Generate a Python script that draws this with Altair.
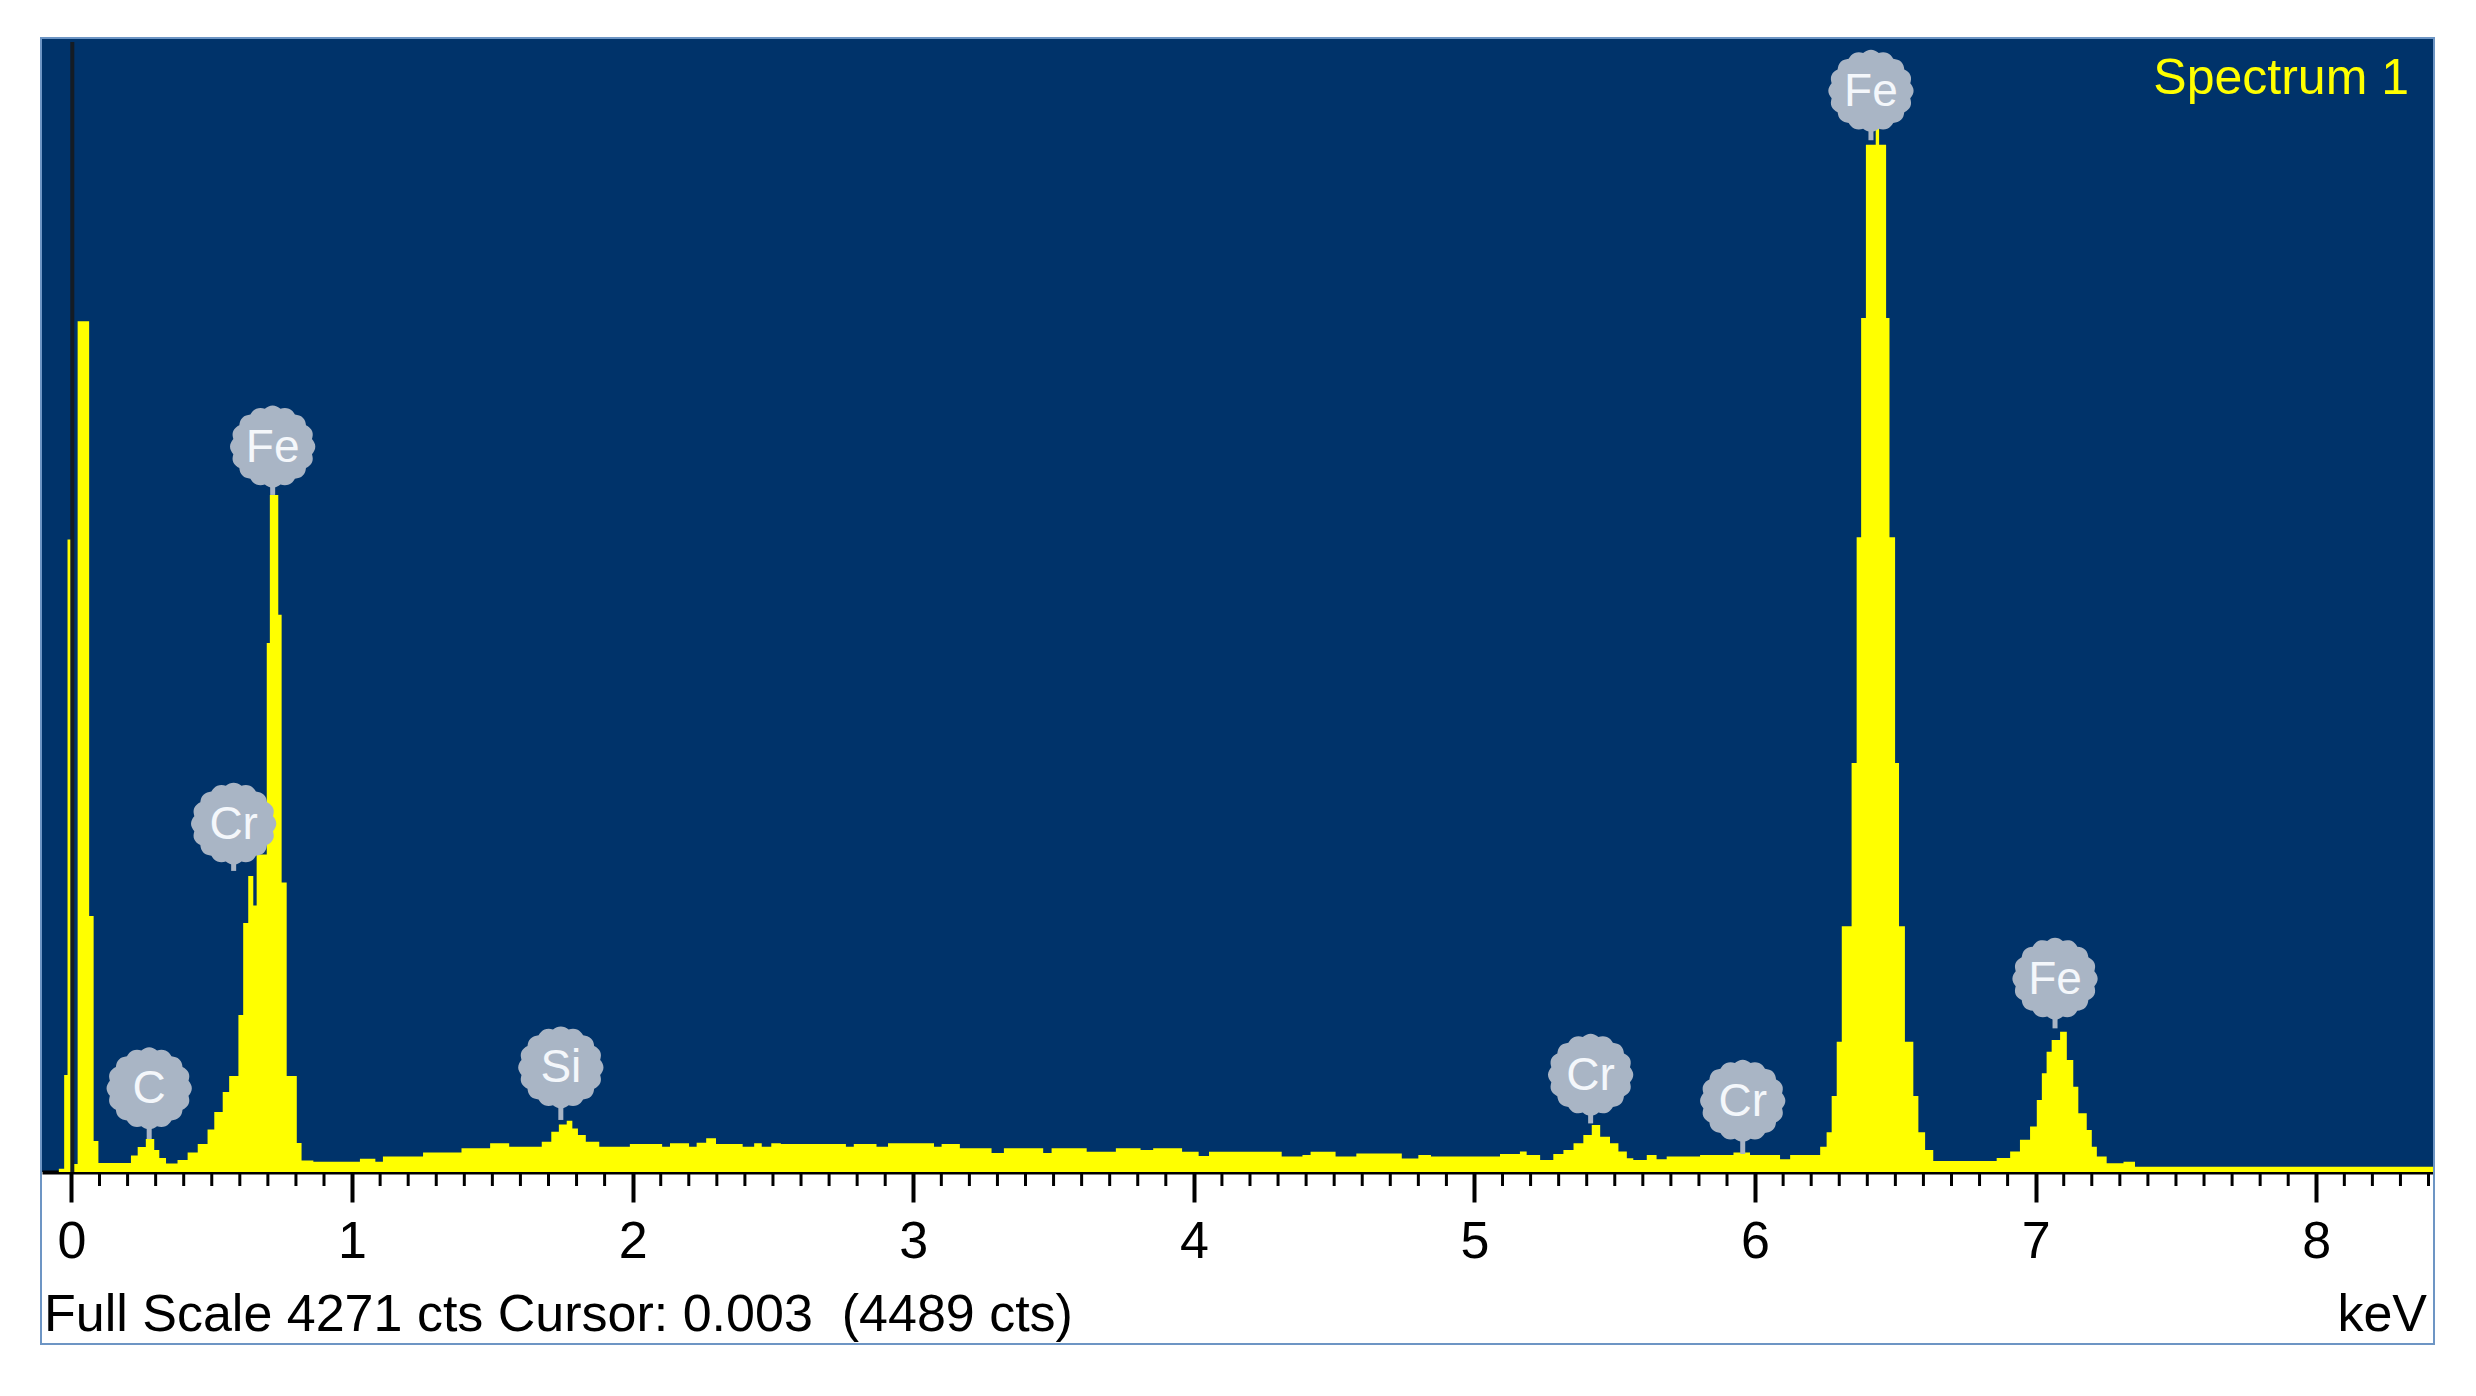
import altair as alt
import pandas as pd
import numpy as np

# ---------------- data ----------------
kev = [-0.105, -0.045, -0.026, -0.014, 0.008, 0.022, 0.063, 0.079, 0.096, 0.212,
       0.236, 0.265, 0.295, 0.313, 0.337, 0.378, 0.414, 0.450, 0.485, 0.509,
       0.539, 0.562, 0.595, 0.612, 0.630, 0.648, 0.660, 0.696, 0.707, 0.737,
       0.749, 0.767, 0.803, 0.820, 0.862, 1.028, 1.083, 1.110, 1.253, 1.390,
       1.492, 1.560, 1.676, 1.710, 1.737, 1.765, 1.785, 1.805, 1.833, 1.881,
       1.990, 2.105, 2.133, 2.201, 2.228, 2.262, 2.297, 2.392, 2.433, 2.460,
       2.494, 2.528, 2.760, 2.788, 2.869, 2.910, 3.074, 3.101, 3.166, 3.279,
       3.323, 3.463, 3.493, 3.618, 3.722, 3.810, 3.855, 3.958, 4.017, 4.054,
       4.313, 4.387, 4.416, 4.505, 4.579, 4.741, 4.800, 4.845, 5.091, 5.162,
       5.186, 5.234, 5.281, 5.317, 5.353, 5.388, 5.418, 5.448, 5.483, 5.513,
       5.543, 5.566, 5.614, 5.649, 5.685, 5.804, 5.923, 5.982, 6.089, 6.125,
       6.232, 6.255, 6.273, 6.291, 6.309, 6.344, 6.362, 6.378, 6.395, 6.430,
       6.442, 6.467, 6.479, 6.499, 6.513, 6.534, 6.564, 6.582, 6.606, 6.635,
       6.861, 6.909, 6.944, 6.980, 7.004, 7.022, 7.039, 7.057, 7.087, 7.111,
       7.134, 7.152, 7.182, 7.200, 7.218, 7.253, 7.313, 7.354, 8.416]
counts = [0, 12, 365, 2382, 30, 3204, 964, 117, 34, 62,
          94, 124, 83, 53, 32, 45, 73, 105, 160, 226,
          301, 362, 591, 938, 1115, 1004, 1196, 1992, 2550, 2099,
          1090, 362, 109, 43, 39, 50, 39, 58, 73, 89,
          108, 95, 114, 152, 179, 193, 164, 139, 114, 95,
          105, 95, 108, 95, 110, 127, 105, 95, 108, 95,
          108, 105, 95, 105, 95, 108, 95, 105, 89, 72,
          89, 72, 89, 76, 89, 83, 89, 76, 60, 76,
          58, 64, 76, 58, 70, 51, 64, 58, 68, 77,
          64, 45, 68, 83, 108, 139, 177, 133, 108, 77,
          52, 45, 64, 48, 58, 64, 73, 64, 48, 64,
          95, 150, 286, 491, 926, 1540, 2391, 3216, 3869, 3950,
          3869, 3216, 2391, 1540, 926, 491, 286, 150, 83, 41,
          53, 77, 121, 171, 271, 372, 453, 497, 528, 422,
          321, 221, 158, 95, 58, 33, 39, 20, 20]

peak_labels = ["C", "Cr", "Fe", "Si", "Cr", "Cr", "Fe", "Fe"]
peak_kev = [0.277, 0.578, 0.717, 1.744, 5.414, 5.956, 6.413, 7.069]
badge_cts = [315, 1312, 2732, 394, 366, 268, 4072, 728]
stem_end_cts = [124, 1134, 2550, 196, 183, 68, 3886, 541]

FULL_SCALE = 4271
CURSOR_KEV = 0.003
CURSOR_CTS = 4489
SPECTRUM_NAME = "Spectrum 1"
UNIT = "keV"
major_ticks = [0, 1, 2, 3, 4, 5, 6, 7, 8]
minor_ticks = [round(i * 0.1, 1) for i in range(0, 85) if i % 10 != 0]

# ---------------- layout ----------------
W, H = 2391, 1134
XDOM = [-0.105, 8.416]
BG = "#00336a"
YEL = "#ffff00"
BADGE = "#a9b5c5"
FONT = "Liberation Sans"

xs = alt.Scale(domain=XDOM, nice=False, zero=False)
ys = alt.Scale(domain=[0, FULL_SCALE], nice=False, zero=False)

spec = pd.DataFrame({"kev": kev, "cts": counts})
peaks = pd.DataFrame({"kev": peak_kev, "cts": badge_cts, "cts_end": stem_end_cts,
                      "lab": peak_labels})
minor = pd.DataFrame({"kev": minor_ticks})
one = pd.DataFrame({"a": [0]})

# scalloped badge outline
pts = []
N = 128
for i in range(N):
    t = 2 * np.pi * i / N
    r = 0.94 + 0.06 * abs(np.cos(8 * t))
    pts.append((1.04 * r * np.cos(t), r * np.sin(t)))
badge_path = "M" + "L".join(f"{px:.3f},{py:.3f}" for px, py in pts) + "Z"

area = alt.Chart(spec).mark_area(
    interpolate="step-after", color=YEL, opacity=1
).encode(
    x=alt.X("kev:Q", scale=xs, title=None,
            axis=alt.Axis(values=major_ticks, format="d", grid=False,
                          tickSize=30, tickWidth=4, tickColor="black",
                          domainColor="black", domainWidth=4,
                          labelFont=FONT, labelFontSize=52, labelColor="black",
                          labelPadding=14, labelFlush=False)),
    y=alt.Y("cts:Q", scale=ys, axis=None),
)

cursor = alt.Chart(one).mark_rule(color="#141c24", strokeWidth=4).encode(
    x=alt.datum(CURSOR_KEV, scale=xs), y=alt.value(4), y2=alt.value(H)
)

stems = alt.Chart(peaks).mark_rule(color=BADGE, strokeWidth=5).encode(
    x=alt.X("kev:Q", scale=xs),
    y=alt.Y("cts:Q", scale=ys, axis=None),
    y2="cts_end:Q",
)

badges = alt.Chart(peaks).mark_point(
    shape=badge_path, filled=True, fill=BADGE, opacity=1, size=6724, strokeWidth=0
).encode(
    x=alt.X("kev:Q", scale=xs),
    y=alt.Y("cts:Q", scale=ys, axis=None),
)

badge_text = alt.Chart(peaks).mark_text(
    font=FONT, fontSize=46, color="#f4f7fb", baseline="middle", align="center", dy=1
).encode(
    x=alt.X("kev:Q", scale=xs),
    y=alt.Y("cts:Q", scale=ys, axis=None),
    text="lab:N",
)

minor_t = alt.Chart(minor).mark_rule(color="black", strokeWidth=3).encode(
    x=alt.X("kev:Q", scale=xs), y=alt.value(H), y2=alt.value(H + 14)
)

frame = alt.Chart(one).mark_rect(filled=False, stroke="#6d95c4", strokeWidth=2).encode(
    x=alt.value(-1), x2=alt.value(W + 1), y=alt.value(0), y2=alt.value(1306)
)

spec_title = alt.Chart(one).mark_text(
    text=SPECTRUM_NAME, font=FONT, fontSize=50, color=YEL, align="right",
    baseline="alphabetic"
).encode(x=alt.value(W - 24), y=alt.value(56))

status = alt.Chart(one).mark_text(
    text=f"Full Scale {FULL_SCALE} cts Cursor: {CURSOR_KEV:.3f}\u00a0 ({CURSOR_CTS} cts)",
    font=FONT, fontSize=52, color="black", align="left", baseline="alphabetic"
).encode(x=alt.value(2), y=alt.value(1293))

unit = alt.Chart(one).mark_text(
    text=UNIT, font=FONT, fontSize=52, color="black", align="right",
    baseline="alphabetic"
).encode(x=alt.value(W - 6), y=alt.value(1293))

chart = alt.layer(
    area, cursor, stems, badges, badge_text, minor_t, frame, spec_title, status, unit
).properties(
    width=W, height=H,
    padding={"left": 34, "top": 30, "right": 20, "bottom": 190},
    autosize=alt.AutoSizeParams(type="none"),
    background="white",
).configure_view(fill=BG, stroke=None)

chart.save("out.html", embed_options={"renderer": "svg", "actions": False})
